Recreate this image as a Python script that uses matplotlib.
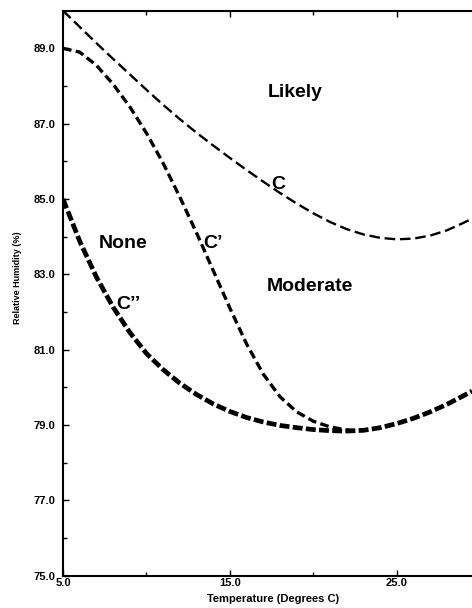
import matplotlib
matplotlib.use('Agg')
import matplotlib.pyplot as plt
from matplotlib.ticker import MultipleLocator

plt.rcParams['font.family'] = ['Liberation Sans', 'DejaVu Sans']
plt.rcParams['font.weight'] = 'bold'

# curve C (upper boundary: likely)
t_c = [5, 6, 7, 8, 9, 10, 11, 12, 13, 14, 15, 16, 17, 18, 19, 20, 21, 22, 23, 24, 25, 26, 27, 28, 29, 29.5]
rh_c = [90.0, 89.57, 89.14, 88.72, 88.31, 87.9, 87.5, 87.12, 86.76, 86.42, 86.09, 85.77, 85.46, 85.16, 84.88,
        84.62, 84.39, 84.2, 84.06, 83.97, 83.93, 83.95, 84.03, 84.17, 84.37, 84.48]
# curve C'
t_c1 = [5, 6, 7, 8, 9, 10, 11, 12, 13, 14, 15, 16, 17, 18, 19, 20, 21, 22, 22.5]
rh_c1 = [89.0, 88.9, 88.55, 88.05, 87.45, 86.75, 85.95, 85.05, 84.1, 83.1, 82.1, 81.15, 80.35, 79.75, 79.35,
         79.1, 78.95, 78.87, 78.85]
# curve C''
t_c2 = [5, 6, 7, 8, 9, 10, 11, 12, 13, 14, 15, 16, 17, 18, 19, 20, 21, 22, 23, 24, 25, 26, 27, 28, 29, 29.5]
rh_c2 = [85.0, 83.88, 82.93, 82.13, 81.46, 80.9, 80.47, 80.11, 79.81, 79.56, 79.36, 79.2, 79.08, 78.99, 78.93,
         78.88, 78.85, 78.84, 78.86, 78.93, 79.04, 79.18, 79.35, 79.55, 79.78, 79.9]

fig = plt.figure(figsize=(4.72, 6.08), dpi=100)
ax = fig.add_axes([0.1335, 0.0531, 0.8665, 0.9293])

ax.plot(t_c, rh_c, color='black', lw=1.7, dashes=(4.5, 2.0))
ax.plot(t_c1, rh_c1, color='black', lw=2.4, dashes=(2.6, 1.3))
ax.plot(t_c2, rh_c2, color='black', lw=3.4, dashes=(2.1, 0.7))

ax.set_xlim(5, 29.5)
ax.set_ylim(75, 90)
ax.xaxis.set_minor_locator(MultipleLocator(5))
ax.yaxis.set_minor_locator(MultipleLocator(1))
ax.set_xticks([5, 15, 25])
ax.set_xticklabels(['5.0', '15.0', '25.0'])
ax.set_yticks([75, 77, 79, 81, 83, 85, 87, 89])
ax.set_yticklabels(['75.0', '77.0', '79.0', '81.0', '83.0', '85.0', '87.0', '89.0'])
ax.tick_params(which='both', direction='in', top=True, right=False, labelsize=8, width=1)
ax.tick_params(which='major', length=4.5)
ax.tick_params(which='minor', length=3)
ax.tick_params(axis='x', pad=2)
ax.tick_params(axis='y', pad=5.5)
ax.spines['right'].set_visible(False)
for s in ['left', 'bottom', 'top']:
    ax.spines[s].set_linewidth(1.5)

ax.set_xlabel('Temperature (Degrees C)', fontsize=8, fontweight='bold')
ax.xaxis.set_label_coords(0.513, -0.033)
ax.set_ylabel('Relative Humidity (%)', fontsize=6.5, fontweight='bold')
ax.yaxis.set_label_coords(-0.100, 0.528)

ax.text(17.28, 87.71, 'Likely', fontsize=14, fontweight='bold')
ax.text(17.49, 85.27, 'C', fontsize=14, fontweight='bold')
ax.text(7.17, 83.70, 'None', fontsize=14, fontweight='bold')
ax.text(13.4, 83.70, 'C\u2019', fontsize=14, fontweight='bold')
ax.text(17.2, 82.57, 'Moderate', fontsize=14, fontweight='bold')
ax.text(8.21, 82.07, 'C\u2019\u2019', fontsize=14, fontweight='bold')

fig.savefig('out.png', dpi=100)
